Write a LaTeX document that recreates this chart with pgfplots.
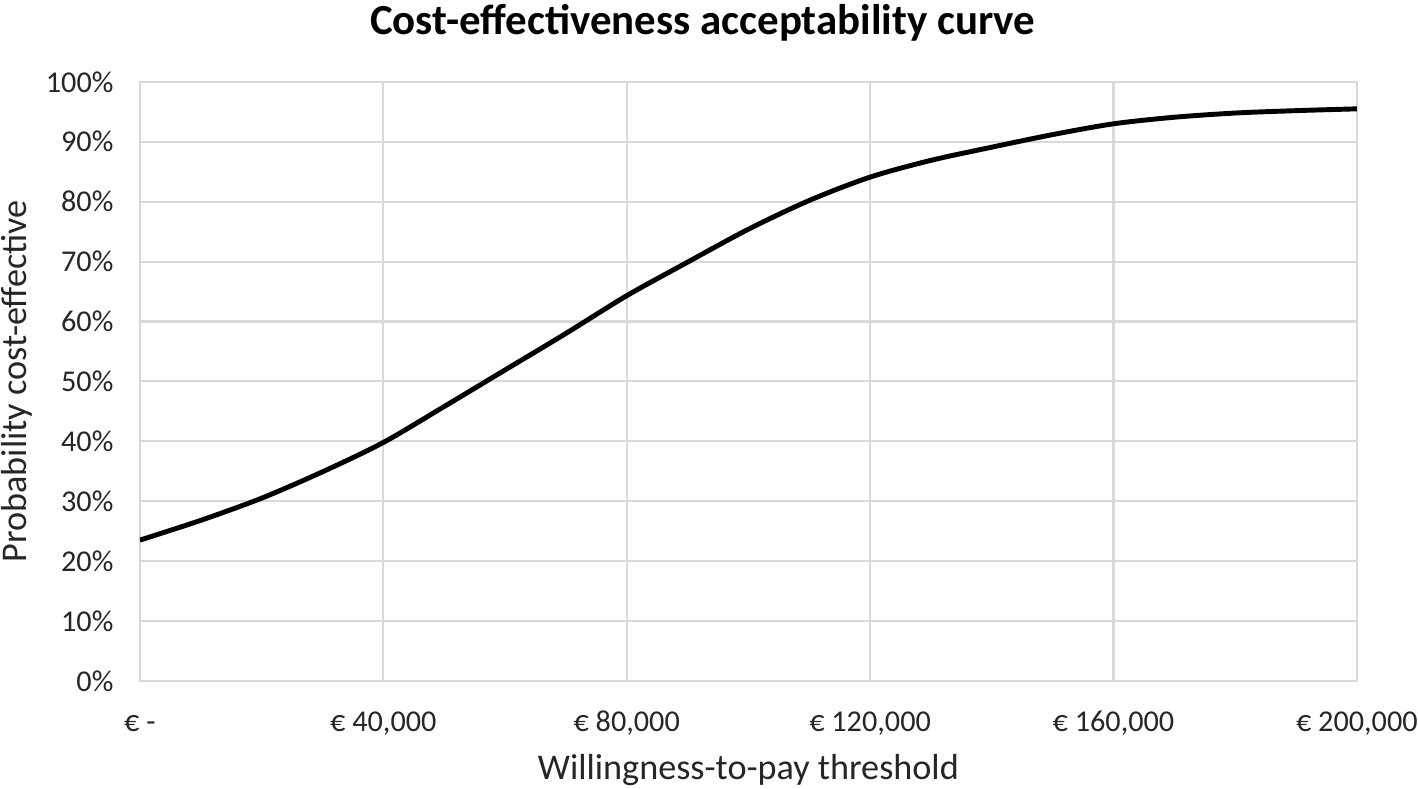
\documentclass[border=0pt]{standalone}
\usepackage{pgfplots}
\pgfplotsset{compat=1.18}
\usepackage{fontspec}
\setmainfont{Carlito}

\definecolor{gridgray}{RGB}{217,217,217}

\begin{document}
\begin{tikzpicture}
\begin{axis}[
    scale only axis,
    width=346.2pt,
    height=170.4pt,
    xmin=0, xmax=200000,
    ymin=0, ymax=100,
    xtick={0,40000,80000,120000,160000,200000},
    xticklabels={{€ -},{€ 40,000},{€ 80,000},{€ 120,000},{€ 160,000},{€ 200,000}},
    ytick={0,10,...,100},
    yticklabels={0\%,10\%,20\%,30\%,40\%,50\%,60\%,70\%,80\%,90\%,100\%},
    scaled x ticks=false,
    grid=major,
    major grid style={gridgray, line width=0.6pt},
    axis line style={gridgray, line width=0.6pt},
    tick style={draw=none},
    ticklabel style={font=\fontsize{8.6}{10}\selectfont, text=black!85},
    yticklabel style={xshift=-4pt},
    xticklabel style={yshift=-4pt, text height=7pt, text depth=2pt},
    xlabel={Willingness-to-pay threshold},
    ylabel={Probability cost-effective},
    label style={font=\fontsize{10.3}{12}\selectfont, text=black!85},
    xlabel style={yshift=2.5pt},
    ylabel style={yshift=-3pt},
    title={Cost-effectiveness acceptability curve},
    title style={font=\fontsize{12.2}{14}\selectfont\bfseries, xshift=-13pt, yshift=2pt},
]
\addplot[black, line width=1.4pt, smooth, tension=0.5] coordinates {
(0,23.5) (10000,26.8) (20000,30.5) (30000,34.9) (40000,39.8)
(50000,45.8) (60000,51.9) (70000,58.0) (80000,64.3) (90000,69.9)
(100000,75.4) (110000,80.2) (120000,84.1) (130000,86.9) (140000,89.1)
(150000,91.2) (160000,93.0) (170000,94.1) (180000,94.8) (190000,95.2)
(200000,95.5)
};
\end{axis}
\pgfresetboundingbox
\path[use as bounding box] ([xshift=-39.8pt,yshift=-30.7pt]current axis.south west)
  rectangle ([xshift=17.4pt,yshift=23.3pt]current axis.north east);
\end{tikzpicture}
\end{document}
